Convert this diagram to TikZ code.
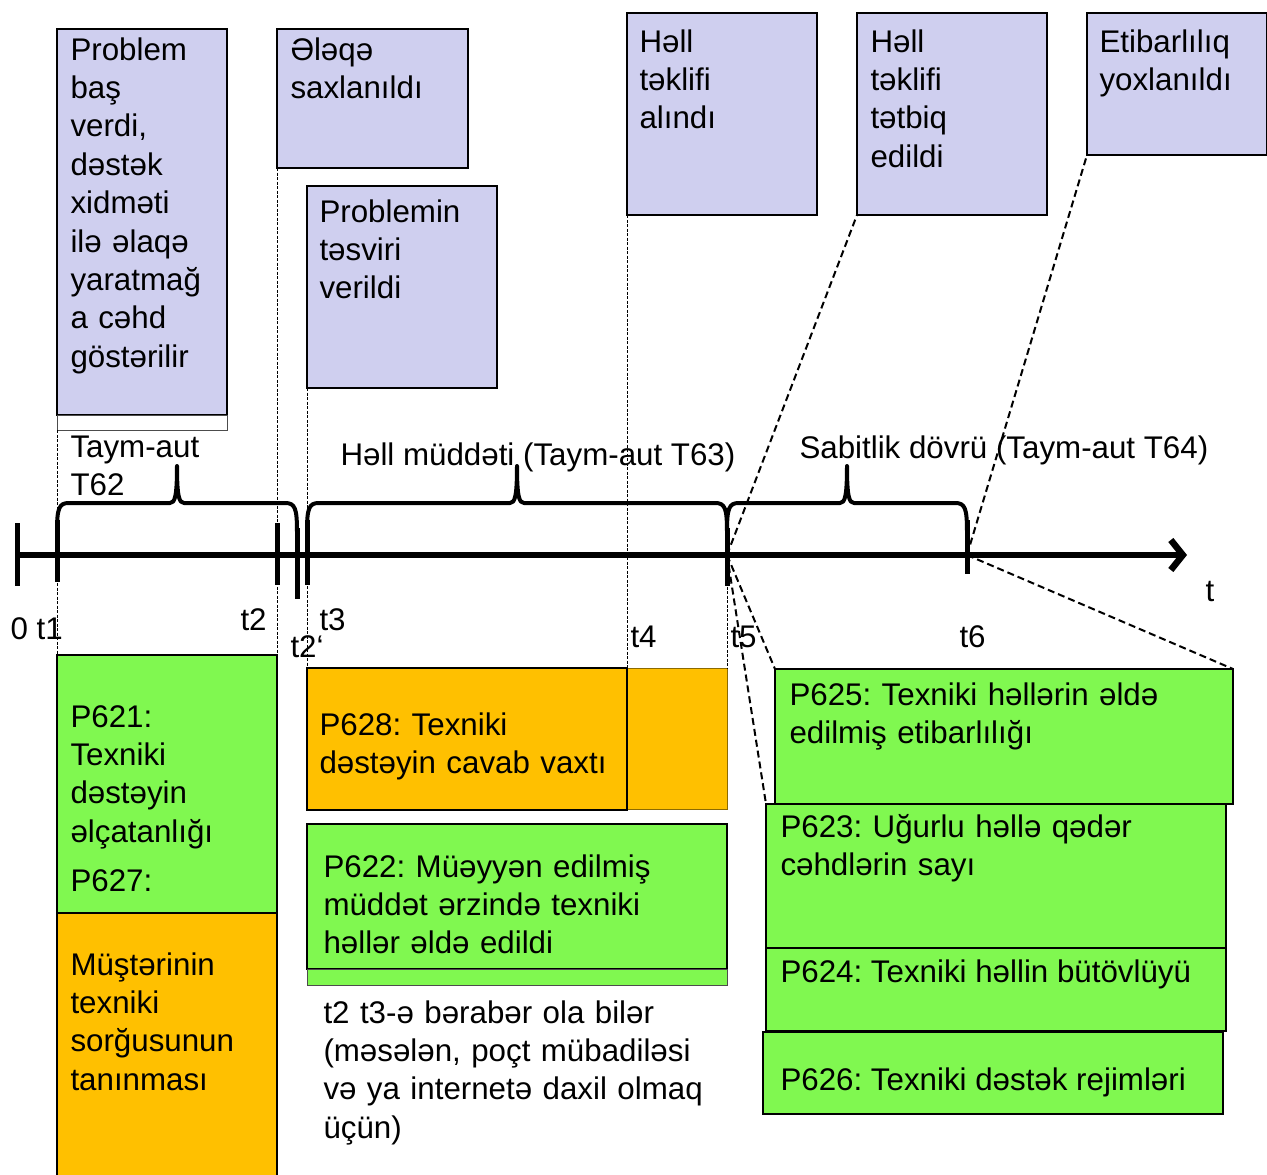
\documentclass[tikz,border=0pt]{standalone}
\usepackage{fontspec}
\setmainfont{Liberation Sans}
\frenchspacing
\usetikzlibrary{arrows.meta, positioning}
\definecolor{clav}{HTML}{CFCFEF}
\definecolor{cgreen}{HTML}{80F850}
\definecolor{corange}{HTML}{FFC000}
\tikzset{
  every picture/.style={line width=1pt},
  box/.style={draw=black, fill=#1, line width=2.4pt, inner sep=0pt, outer sep=0pt, anchor=north west},
  box/.default=clav,
  foot/.style={draw=black!70, fill=#1, line width=1pt, inner sep=0pt, outer sep=0pt, anchor=north west},
  txt/.style={anchor=base west, inner sep=0pt, align=left, text width=#1},
  txt/.default=160pt,
  lbl/.style={anchor=base west, inner sep=0pt},
  guide/.style={dash pattern=on 3pt off 1.5pt, line width=0.9pt},
  zoomline/.style={dash pattern=on 7pt off 4pt, line width=2pt},
  tick/.style={line width=5pt},
  axis/.style={line width=6.5pt, -{Straight Barb[length=12pt, width=30pt]}},
  brace/.style={line width=4pt, line join=round},
}

\begin{document}
\begin{tikzpicture}[x=1pt, y=-1pt, font=\fontsize{31.3}{38.4}\selectfont]
  \useasboundingbox (0,0) rectangle (1267,1175);

  % events above the time axis
  \node[box, minimum width=170pt, minimum height=386pt] (start) at (57,29) {};
  \node[foot=white, minimum width=170pt, minimum height=15pt] (startfoot) at (57,415) {};
  \node[box, minimum width=191pt, minimum height=139pt] (contact) at (277,29) {};
  \node[box, minimum width=190pt, minimum height=202pt] (describe) at (307,186) {};
  \node[box, minimum width=190pt, minimum height=202pt] (propose) at (627,13) {};
  \node[box, minimum width=190pt, minimum height=202pt] (apply) at (857,13) {};
  \node[box, minimum width=180pt, minimum height=142pt] (verify) at (1087,13) {};

  \node[txt=150pt] (startt) at (70,60) {Problem\\baş\\verdi,\\dəstək\\xidməti\\ilə əlaqə\\yaratmağ\\a cəhd\\göstərilir};
  \node[txt=170pt] (contactt) at (290,60) {Ələqə\\saxlanıldı};
  \node[txt=170pt] (describet) at (319,222) {Problemin\\təsviri\\verildi};
  \node[txt=170pt] (proposet) at (639,52) {Həll\\təklifi\\alındı};
  \node[txt=170pt] (applyt) at (870,52) {Həll\\təklifi\\tətbiq\\edildi};
  \node[txt=165pt] (verifyt) at (1099,52) {Etibarlılıq\\yoxlanıldı};

  % lower boxes
  \node[box=cgreen, minimum width=220pt, minimum height=258pt] (p621) at (57,655) {};
  \node[box=corange, minimum width=220pt, minimum height=266pt] (p627) at (57,913) {};
  \node[foot=corange, draw=black!45!corange, minimum width=100pt, minimum height=141pt] (p628x) at (627,668) {};
  \node[box=corange, minimum width=320pt, minimum height=142pt] (p628) at (307,668) {};
  \node[box=cgreen, minimum width=420pt, minimum height=145pt] (p622) at (307,824) {};
  \node[foot=cgreen, minimum width=420pt, minimum height=16pt] (p622foot) at (307,969) {};
  \node[box=cgreen, minimum width=458pt, minimum height=135pt] (p625) at (775,669) {};
  \node[box=cgreen, minimum width=460pt, minimum height=144pt] (p623) at (766,804) {};
  \node[box=cgreen, minimum width=460pt, minimum height=83pt] (p624) at (766,948) {};
  \node[box=cgreen, minimum width=460pt, minimum height=82pt] (p626) at (763,1032) {};

  \node[txt=200pt] (p621t) at (70,727) {P621:\\Texniki\\dəstəyin\\əlçatanlığı};
  \node[lbl] (p627l) at (70,891) {P627:};
  \node[txt=200pt] (p627t) at (70,975) {Müştərinin\\texniki\\sorğusunun\\tanınması};
  \node[txt=300pt] (p628t) at (319,735) {P628: Texniki\\dəstəyin cavab vaxtı};
  \node[txt=400pt] (p622t) at (323,877) {P622: Müəyyən edilmiş\\müddət ərzində texniki\\həllər əldə edildi};
  \node[txt=420pt] (note) at (323,1023) {t2 t3-ə bərabər ola bilər\\(məsələn, poçt mübadiləsi\\və ya internetə daxil olmaq\\üçün)};
  \node[txt=440pt] (p625t) at (789,705) {P625: Texniki həllərin əldə\\edilmiş etibarlılığı};
  \node[txt=440pt] (p623t) at (780,837) {P623: Uğurlu həllə qədər\\cəhdlərin sayı};
  \node[lbl] (p624t) at (780,982) {P624: Texniki həllin bütövlüyü};
  \node[lbl] (p626t) at (780,1090) {P626: Texniki dəstək rejimləri};

  % time axis
  \foreach \n/\x/\a/\b in {o/17/523/586, t1/57/520/582, t2/277/523/585, t2b/297/528/599, t3/307/520/585, t5/727/528/586, t6/967/520/574}
    {\coordinate (\n) at (\x,555); \draw[tick] (\x,\a) -- (\x,\b);}
  \coordinate (tend) at (1187,555);
  \draw[axis] (o) -- (tend);
  \foreach \a/\m/\b in {57/177/297, 307/517/727, 727/847/967}
    \draw[brace] (\a,532) .. controls (\a,508) and (\a+2,503) .. (\a+12,503) -- (\m-7,503)
      .. controls (\m-2,503) and (\m,496) .. (\m,466) .. controls (\m,496) and (\m+2,503) .. (\m+7,503)
      -- (\b-12,503) .. controls (\b-2,503) and (\b,508) .. (\b,532);

  \node[txt=150pt] (t62) at (70,457) {Taym-aut\\T62};
  \node[lbl] (t63) at (340,465) {Həll müddəti (Taym-aut T63)};
  \node[lbl] (t64) at (799,458) {Sabitlik dövrü (Taym-aut T64)};
  \node[lbl] (lt) at (1205,601) {t};
  \node[lbl] (l0) at (10,639) {0 t1};
  \node[lbl] (l2) at (240,630) {t2};
  \node[lbl] (l2b) at (290,657) {t2‘};
  \node[lbl] (l3) at (319,630) {t3};
  \node[lbl] (l4) at (630,647) {t4};
  \node[lbl] (l5) at (730,647) {t5};
  \node[lbl] (l6) at (959,647) {t6};

  % guides and zoom lines
  \draw[guide] (startfoot.south west) -- (p621.north west);
  \draw[guide] (contact.south west) -- (p621.north east);
  \draw[guide] (describe.south west) -- (p628.north west);
  \draw[guide] (propose.south west) -- (p628.north east);
  \draw[guide] (t5) -- (p628x.north east);
  \draw[zoomline] (t5) -- (apply.south west);
  \draw[zoomline] (t6) -- (verify.south west);
  \draw[zoomline] (t5) -- (p625.north west);
  \draw[zoomline] (t5) -- (p623.north west);
  \draw[zoomline] (t6) -- (p625.north east);
\end{tikzpicture}
\end{document}
